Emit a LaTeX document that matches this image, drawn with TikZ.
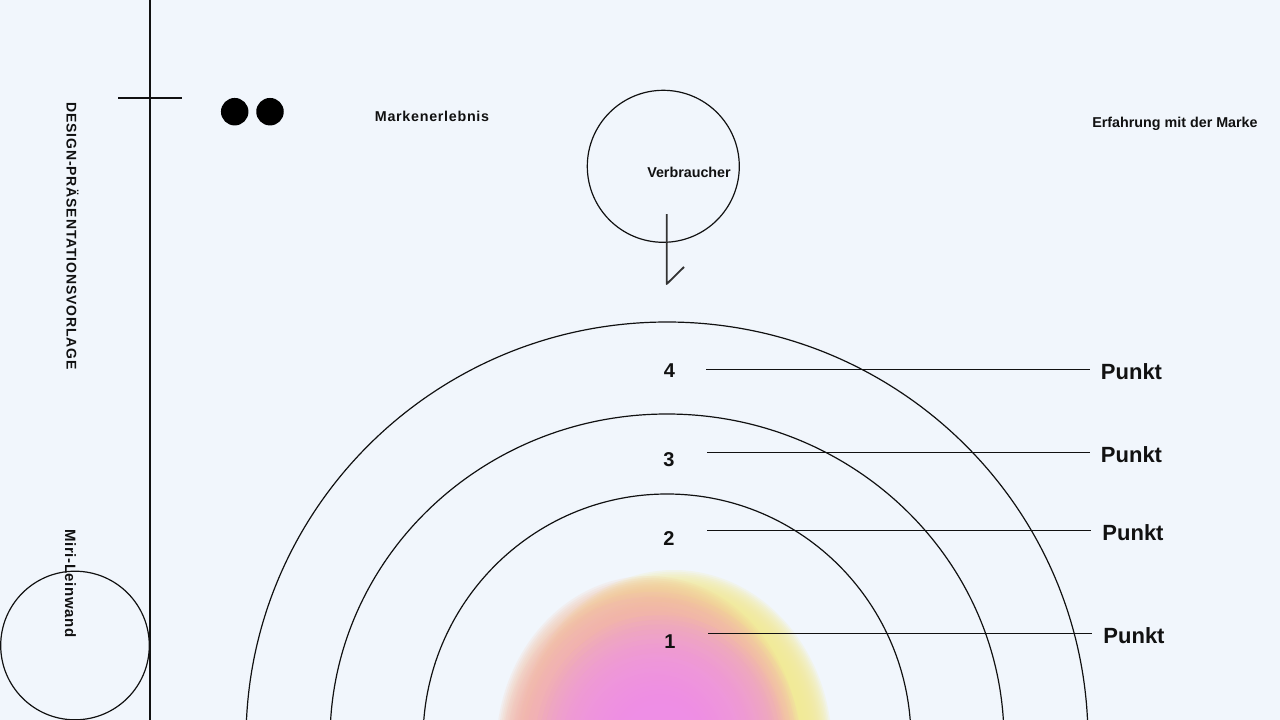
\documentclass[tikz,border=0pt]{standalone}
\usepackage{fontspec}
\setmainfont{Liberation Sans}

\definecolor{hinter}{HTML}{F1F6FC}
\definecolor{tinte}{HTML}{111111}
\definecolor{pfirsich}{HTML}{F6BE9E}
\definecolor{gelb}{HTML}{F6EA96}
\definecolor{rosa}{HTML}{F2A6D6}
\definecolor{blobpink}{HTML}{EE8EF4}

\begin{document}
\begin{tikzpicture}[x=1pt,y=-1pt,
	strich/.style={line width=1.2pt, tinte},
	bogen/.style={line width=1.2pt, tinte},
	klein/.style={font=\fontsize{14.3}{16}\selectfont\bfseries, text=tinte, inner sep=0pt, anchor=base},
	nummer/.style={font=\fontsize{20}{24}\selectfont\bfseries, text=tinte, inner sep=0pt},
	punkt/.style={font=\fontsize{22}{26}\selectfont\bfseries, text=tinte, inner sep=0pt, outer xsep=11pt},
	seite/.style={font=\fontsize{14}{16}\selectfont\bfseries, text=tinte, inner sep=0pt, rotate=-90},
	tupfer/.style={circle, fill=black, minimum size=27.5pt, inner sep=0pt},
	ring/.style={circle, draw=tinte, line width=1.2pt, inner sep=0pt}]
	\useasboundingbox (0,0) rectangle (1280,720);
	\fill[hinter] (0,0) rectangle (1280,720);
	\clip (0,0) rectangle (1280,720);
	% Farbfleck unten in der Mitte (weicher Rand aus vielen Schichten)
	\foreach \k in {0,...,17}
		\fill[gelb, fill opacity=0.16] (674,748) ellipse [x radius={158*(1-0.01*\k)}, y radius={178*(1-0.01*\k)}];
	\foreach \k in {0,...,17}
		\fill[pfirsich, fill opacity=0.13] (648,750) ellipse [x radius={152*(1-0.012*\k)}, y radius={174*(1-0.012*\k)}];
	\foreach \k in {0,...,19}
		\fill[rosa, fill opacity=0.08] (652,752) ellipse [x radius={150*(1-0.03*\k)}, y radius={160*(1-0.03*\k)}];
	\foreach \k in {0,...,19}
		\fill[blobpink, fill opacity=0.075] (660,745) ellipse [x radius={125*(1-0.036*\k)}, y radius={130*(1-0.036*\k)}];
	% Boegen um den Fleck
	\draw[bogen] (667,740) ellipse [x radius=421, y radius=418];
	\draw[bogen] (667,740) ellipse [x radius=337, y radius=326];
	\draw[bogen] (667,740) ellipse [x radius=244, y radius=246];
	% linker Rand
	\draw[strich] (150,0) -- (150,720);
	\draw[strich] (118,98) -- (182,98);
	\node[seite] (titel) at (72.5,236) {\addfontfeature{LetterSpace=6}DESIGN-PRÄSENTATIONSVORLAGE};
	\node[seite, font=\fontsize{15}{17}\selectfont\bfseries] (miri) at (70.5,583.5) {\addfontfeature{LetterSpace=4}Miri-Leinwand};
	\node[ring, minimum size=148.6pt] (miriring) at (75,645.5) {};
	% Kopfzeile
	\node[tupfer] (tupfa) at (234.7,111.7) {};
	\node[tupfer] (tupfb) at (270,111.7) {};
	\node[klein] (marke) at (432,121) {\addfontfeature{LetterSpace=5}Markenerlebnis};
	\node[klein] (erfahrung) at (1175,127.7) {Erfahrung mit der Marke};
	\node[ring, minimum size=152pt] (vkreis) at (663.3,166.3) {};
	\node[klein] (verbraucher) at (689,177.3) {Verbraucher};
	% Pfeil nach unten
	\coordinate (pfeilstart) at (666.7,214);
	\coordinate (pfeilspitze) at (666.7,284);
	\coordinate (haken) at (684,267);
	\draw[line width=1.8pt, black!80, line join=round] (pfeilstart) -- (pfeilspitze) -- (haken);
	% Stufen mit Linien zum Punkt
	\foreach \n/\nx/\ny/\lx/\ly/\px/\py in {4/669.5/371/706/369.3/1131.5/371.5, 3/669/459.5/707/452.3/1131.5/455, 2/669/538.5/707/530.3/1133/532.5, 1/670/642/708/633.3/1134/635.5}{
		\node[nummer] (n\n) at (\nx,\ny) {\n};
		\node[punkt] (p\n) at (\px,\py) {Punkt};
		\coordinate (s\n) at (\lx,\ly);
		\draw[strich] (s\n) -- (s\n -| p\n.west);
	}
\end{tikzpicture}
\end{document}
